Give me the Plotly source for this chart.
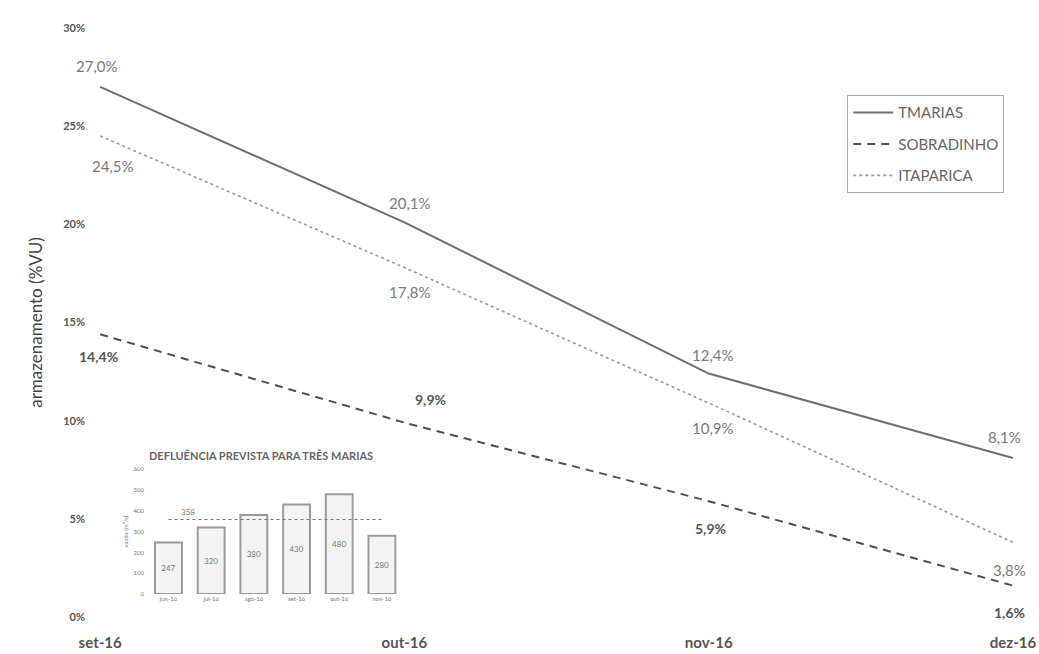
import plotly.graph_objects as go

months = ["set-16", "out-16", "nov-16", "dez-16"]
tmarias = [27.0, 20.1, 12.4, 8.1]
sobradinho = [14.4, 9.9, 5.9, 1.6]
itaparica = [24.5, 17.8, 10.9, 3.8]
y_ticks = [0, 5, 10, 15, 20, 25, 30]
y_ticklabels = ["0%", "5%", "10%", "15%", "20%", "25%", "30%"]

inset_months = ["jun-16", "jul-16", "ago-16", "set-16", "out-16", "nov-16"]
inset_values = [247, 320, 380, 430, 480, 280]
inset_ref = 358
inset_ticks = [0, 100, 200, 300, 400, 500, 600]

FONT = "Lato"

fig = go.Figure()

fig.add_trace(go.Scatter(x=months, y=tmarias, mode="lines", name="TMARIAS",
                         legendgroup="a",
                         line=dict(color="#707070", width=2, dash="solid")))
fig.add_trace(go.Scatter(x=months, y=sobradinho, mode="lines", name="SOBRADINHO",
                         legendgroup="b",
                         line=dict(color="#505050", width=2, dash="8px,6px")))
fig.add_trace(go.Scatter(x=months, y=itaparica, mode="lines", name="ITAPARICA",
                         legendgroup="c",
                         line=dict(color="#9a9a9a", width=1.6, dash="dot")))

# inset bars
fig.add_trace(go.Bar(x=inset_months, y=inset_values, xaxis="x2", yaxis="y2",
                     width=0.63, showlegend=False,
                     marker=dict(color="#f3f3f3", line=dict(color="#9a9a9a", width=2)),
                     text=[str(v) for v in inset_values], textposition="inside",
                     insidetextanchor="middle",
                     textfont=dict(family=FONT, size=8, color="#777777")))
fig.add_trace(go.Scatter(x=[inset_months[0], inset_months[-1]], y=[inset_ref, inset_ref],
                         xaxis="x2", yaxis="y2", mode="lines", showlegend=False,
                         line=dict(color="#777777", width=1.2, dash="dot")))

annotations = []

def lab(xi, val, xs, ys, bold=False):
    txt = f"{val:.1f}%".replace(".", ",")
    annotations.append(dict(
        x=months[xi], y=val, xref="x", yref="y", text=(f"<b>{txt}</b>" if bold else txt),
        showarrow=False, xshift=xs, yshift=ys,
        font=dict(family=FONT, size=15 if not bold else 14,
                  color="#7a7a7a" if not bold else "#555555")))

t_shift = [(-3, 21), (6, 19), (4, 19), (-8, 21)]
i_shift = [(13, -30), (6, -24), (4, -25), (-3, -28)]
s_shift = [(-2, -22), (26, 23), (2, -27), (-3, -27)]
for k in range(4):
    lab(k, tmarias[k], *t_shift[k])
    lab(k, itaparica[k], *i_shift[k])
    lab(k, sobradinho[k], *s_shift[k], bold=True)

annotations.append(dict(x=inset_months[0], y=inset_ref, xref="x2", yref="y2",
                        text=str(inset_ref), showarrow=False, xshift=20, yshift=8,
                        font=dict(family=FONT, size=8, color="#777777")))
annotations.append(dict(x=0.5, y=1.0, xref="x2 domain", yref="y2 domain",
                        text="<b>DEFLUÊNCIA PREVISTA PARA TRÊS MARIAS</b>",
                        showarrow=False, yshift=22, xshift=-14,
                        font=dict(family=FONT, size=11, color="#666666")))

fig.update_layout(
    width=1039, height=654,
    margin=dict(l=88, r=9, t=28, b=37),
    paper_bgcolor="white", plot_bgcolor="white",
    font=dict(family=FONT, color="#555555"),
    annotations=annotations,
    legend=dict(x=0.806, y=0.886, xanchor="left", yanchor="top",
                bordercolor="#aaaaaa", borderwidth=1, bgcolor="white",
                font=dict(family=FONT, size=15, color="#666666"),
                tracegroupgap=9, itemwidth=40),
    xaxis=dict(type="category", categoryorder="array", categoryarray=months,
               range=[-0.04, 3.056], showgrid=False, zeroline=False, showline=False,
               ticks="", ticklabelstandoff=15, automargin=False,
               tickfont=dict(family=FONT, size=15, color="#555555", weight="bold")),
    yaxis=dict(range=[0, 30], tickvals=y_ticks, ticktext=y_ticklabels,
               showgrid=False, zeroline=False, showline=False, ticks="",
               ticklabelstandoff=2, automargin=False,
               tickfont=dict(family=FONT, size=11, color="#555555", weight="bold"),
               title=dict(text="armazenamento (%VU)", standoff=16,
                          font=dict(family=FONT, size=17, color="#444444"))),
    xaxis2=dict(domain=[0.0605, 0.3365], anchor="y2", type="category",
                range=[-0.55, 5.54], showgrid=False, zeroline=False, showline=False,
                ticks="", automargin=False,
                tickfont=dict(family=FONT, size=6, color="#777777")),
    yaxis2=dict(domain=[0.039, 0.251], anchor="x2", range=[0, 600],
                tickvals=inset_ticks, showgrid=False, zeroline=False, showline=False,
                ticks="", automargin=False,
                tickfont=dict(family=FONT, size=6, color="#777777"),
                title=dict(text="vazão (m³/s)", standoff=4,
                           font=dict(family=FONT, size=6, color="#777777"))),
    bargap=0.37,
)

fig.write_html("out.html")
